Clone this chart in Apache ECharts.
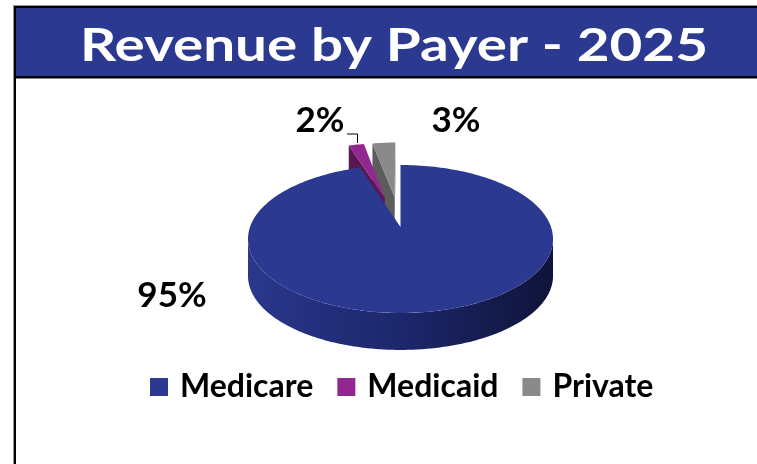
<!DOCTYPE html>
<html>
<head>
<meta charset="utf-8">
<title>Revenue by Payer - 2025</title>
<script src="https://cdn.jsdelivr.net/npm/echarts@6/dist/echarts.min.js"></script>
<style>
  html, body { margin: 0; padding: 0; background: #ffffff; }
  #chart { width: 757px; height: 464px; }
</style>
</head>
<body>
<div id="chart"></div>
<script>
// Payer mix for the year, in percent of revenue
const payers = ['Medicare', 'Medicaid', 'Private'];
const shares = [95, 2, 3];
// slices pulled out of the pie (1 = exploded)
const pulledOut = [0, 1, 1];

// Colours per payer: top face, radial side face, outer wall gradient
const PALETTE = {
  Medicare: { top: '#2B3990', face: '#1c2566', wall: ['#2a378c', '#1d276b', '#0f1439'] },
  Medicaid: { top: '#92278F', face: '#5a1852', wall: ['#6d1d68', '#5a1852', '#3e1039'] },
  Private:  { top: '#8A8A8A', face: '#5c5c5c', wall: ['#6a6a6a', '#5c5c5c', '#404040'] }
};

// Perspective disc layout (pixels)
const PIE = { cx: 400.5, cy: 227, rx: 150.5, k: 72, p: 0.162, depth: 37, explode: 0.45 };

// Where each percentage label sits, and the leader for the small slice
const LABEL_AT = {
  Medicare: [172, 296],
  Medicaid: [320, 121],
  Private:  [456, 121]
};
const LEADER = { Medicaid: [[347, 134], [357.5, 134], [357.5, 143]] };

const FONT = 'Lato, "Open Sans", sans-serif';

// project a point of the unit disc (u right, v away from the viewer)
function project(u, v, drop) {
  const s = 1 / (1 + PIE.p * v);
  return [PIE.cx + PIE.rx * u * s, PIE.cy - PIE.k * v * s + (drop || 0)];
}

function cross(o, a, b) {
  return (a[0] - o[0]) * (b[1] - o[1]) - (a[1] - o[1]) * (b[0] - o[0]);
}

const total = shares.reduce((a, b) => a + b, 0);

function renderSlice(idx) {
  return function (params, api) {
    const value = api.value(0);
    let before = 0;
    for (let j = 0; j < idx; j++) before += shares[j];
    const TAU = Math.PI * 2;
    const start = before / total * TAU;
    const end = start + value / total * TAU;
    const mid = (start + end) / 2;
    const d = pulledOut[idx] ? PIE.explode : 0;
    const ou = d * Math.sin(mid), ov = d * Math.cos(mid);
    const name = payers[idx];
    const col = PALETTE[name];

    const steps = Math.max(6, Math.ceil((end - start) / (Math.PI / 120)));
    const arc = (a, b, drop) => {
      const pts = [];
      for (let n = 0; n <= steps; n++) {
        const t = a + (b - a) * n / steps;
        pts.push(project(ou + Math.sin(t), ov + Math.cos(t), drop));
      }
      return pts;
    };
    const apexTop = project(ou, ov, 0);
    const apexBot = project(ou, ov, PIE.depth);
    const rimTop = arc(start, end, 0);
    const rimBot = arc(start, end, PIE.depth);

    const children = [];

    // radial faces, drawn only when they turn toward the viewer
    const sFace = [apexTop, rimTop[0], rimBot[0], apexBot];
    if (cross(apexTop, rimTop[0], apexBot) < -1) {
      children.push({ type: 'polygon', shape: { points: sFace }, style: { fill: col.face } });
    }
    const eFace = [apexTop, rimTop[steps], rimBot[steps], apexBot];
    if (cross(apexTop, rimTop[steps], apexBot) > 1) {
      children.push({ type: 'polygon', shape: { points: eFace }, style: { fill: col.face } });
    }

    // outer wall: only the front part of the rim is visible
    const vis0 = Math.acos(-PIE.p), vis1 = TAU - Math.acos(-PIE.p);
    const w0 = Math.max(start, vis0), w1 = Math.min(end, vis1);
    if (w1 > w0) {
      const top = arc(w0, w1, 0);
      const bot = arc(w0, w1, PIE.depth).reverse();
      children.push({
        type: 'polygon',
        shape: { points: top.concat(bot) },
        style: {
          fill: new echarts.graphic.LinearGradient(0, 0, 1, 0, [
            { offset: 0, color: col.wall[0] },
            { offset: 0.5, color: col.wall[1] },
            { offset: 1, color: col.wall[2] }
          ])
        }
      });
    }

    // top face
    children.push({
      type: 'polygon',
      shape: { points: [apexTop].concat(rimTop) },
      style: { fill: col.top }
    });

    // percentage label
    const at = LABEL_AT[name];
    children.push({
      type: 'text',
      x: at[0], y: at[1],
      style: {
        text: value + '%',
        fill: '#000000',
        font: 'bold 35px ' + FONT,
        align: 'center',
        verticalAlign: 'middle'
      }
    });
    if (LEADER[name]) {
      children.push({
        type: 'polyline',
        shape: { points: LEADER[name] },
        style: { stroke: '#000000', lineWidth: 1, fill: null }
      });
    }

    return { type: 'group', children: children };
  };
}

// back slices first, Medicare in front
const zOrder = { Medicare: 3, Medicaid: 2, Private: 1 };

const series = payers.map((name, i) => ({
  type: 'custom',
  name: name,
  coordinateSystem: 'none',
  z: zOrder[name],
  silent: true,
  itemStyle: { color: PALETTE[name].top },
  renderItem: renderSlice(i),
  data: [[shares[i]]]
}));

const chart = echarts.init(document.getElementById('chart'), null, { renderer: 'canvas' });

chart.setOption({
  animation: false,
  backgroundColor: '#ffffff',
  graphic: [
    // frame
    { type: 'rect', shape: { x: 13, y: 5, width: 744, height: 1 }, style: { fill: '#9a9a9a' }, z: 0 },
    { type: 'rect', shape: { x: 13, y: 5, width: 1, height: 459 }, style: { fill: '#9a9a9a' }, z: 0 },
    { type: 'rect', shape: { x: 14, y: 6, width: 743, height: 2 }, style: { fill: '#000000' }, z: 0 },
    { type: 'rect', shape: { x: 14, y: 6, width: 2, height: 458 }, style: { fill: '#000000' }, z: 0 },
    // title band
    { type: 'rect', shape: { x: 16, y: 8, width: 741, height: 68 }, style: { fill: '#2B3990' }, z: 0 },
    { type: 'rect', shape: { x: 16, y: 76, width: 741, height: 2.5 }, style: { fill: '#000000' }, z: 0 },
    {
      type: 'text', x: 394, y: 46, scaleX: 1.23, z: 1,
      style: {
        text: 'Revenue by Payer - 2025',
        fill: '#ffffff',
        font: 'bold 46px ' + FONT,
        align: 'center',
        verticalAlign: 'middle'
      }
    }
  ],
  legend: {
    data: payers,
    left: 150,
    top: 371,
    padding: 0,
    itemGap: 24,
    itemWidth: 18,
    itemHeight: 18,
    icon: 'rect',
    selectedMode: false,
    textStyle: {
      color: '#000000',
      fontFamily: FONT,
      fontWeight: 'bold',
      fontSize: 32,
      padding: [0, 0, 0, 7]
    }
  },
  series: series
});
</script>
</body>
</html>
